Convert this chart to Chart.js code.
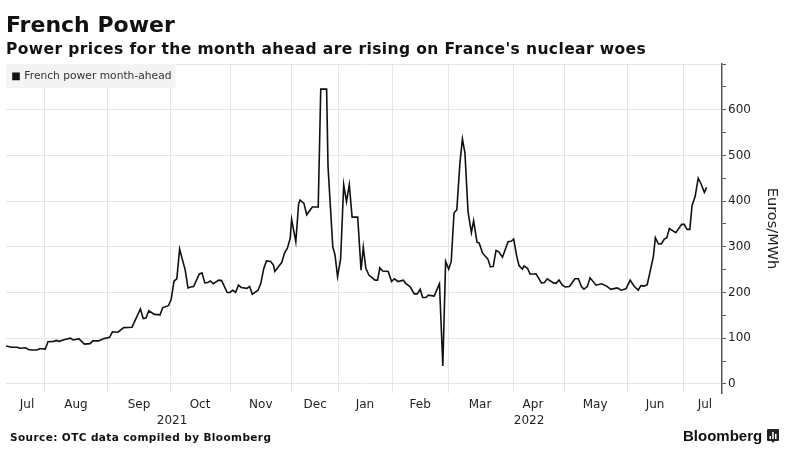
<!DOCTYPE html>
<html>
<head>
<meta charset="utf-8">
<script src="https://cdn.jsdelivr.net/npm/chart.js@4"></script>
<style>
  html, body { margin: 0; padding: 0; background: #fff; }
  body { width: 788px; height: 457px; position: relative; overflow: hidden; font-family: "DejaVu Sans", sans-serif; color: #111; }
  #wrap { position: absolute; left: 0; top: 0; width: 788px; height: 457px; }
  .label { position: absolute; white-space: nowrap; font-weight: bold; }
  #title { left: 6px; top: 11px; font-size: 22px; line-height: 28px; }
  #subtitle { left: 6px; top: 38px; font-size: 15.5px; line-height: 22px; letter-spacing: 0.4px; }
  #source { left: 10px; top: 429px; font-size: 10.5px; line-height: 16px; letter-spacing: 0.4px; }
  #brand { left: 683px; top: 427px; font-family: "Liberation Sans", sans-serif; font-size: 15px; line-height: 18px; }
  #logo { position: absolute; left: 767px; top: 429px; }
</style>
</head>
<body>
<div id="wrap"><canvas id="chart" width="788" height="457"></canvas></div>
<div class="label" id="title">French Power</div>
<div class="label" id="subtitle">Power prices for the month ahead are rising on France's nuclear woes</div>
<div class="label" id="source">Source: OTC data compiled by Bloomberg</div>
<div class="label" id="brand">Bloomberg</div>
<svg id="logo" width="12" height="14" viewBox="0 0 12 14">
  <path d="M1 0h10a1 1 0 0 1 1 1v10a1 1 0 0 1-1 1H7.5L6 14 4.5 12H1a1 1 0 0 1-1-1V1a1 1 0 0 1 1-1z" fill="#222"/>
  <path d="M2.5 7h1.5v3H2.5zM5.2 3h1.5v7H5.2zM8 5h1.5v5H8z" fill="#fff"/>
</svg>
<script>
// x is counted in trading days from the first point of the window
const tradingDays = [
  0, 2, 4, 5, 7, 8, 9, 11, 12, 13, 14, 15, 17, 18, 19, 21, 23, 24, 26, 28,
  30, 31, 33, 35, 37, 38, 40, 41, 42, 45, 48, 49, 50, 51, 53, 55, 56, 58, 59, 60,
  61, 62, 64, 65, 66, 67, 69, 70, 71, 72, 73, 74, 76, 77, 79, 80, 81, 82, 83, 84,
  86, 87, 88, 90, 91, 92, 93, 94.5, 95.5, 96, 98.5, 99.5, 100.5, 101.5, 102, 103.5, 104.5, 105, 106.4, 107.4,
  109.4, 111.5, 112.4, 114.5, 115, 116.7, 117.5, 118.4, 119.5, 120.6, 121.6, 122.6, 123.6, 125.6, 126.8, 127.6, 128.5, 129.6, 130.8, 131.8,
  132.7, 133.5, 134.5, 136.5, 137.7, 138.7, 140, 141.9, 142.7, 144.3, 145.8, 146.9, 147.9, 148.8, 150, 150.8, 152.9, 154.8, 156, 157,
  158.1, 159, 160, 161, 162.1, 163, 163.9, 165, 166.2, 167, 168.2, 169, 170.2, 172.1, 173, 174, 175, 176, 177.3, 179.3,
  180.4, 181.3, 182.4, 183.2, 184.4, 185, 186.2, 187.2, 189.3, 191.2, 192.3, 193.3, 195.5, 196.4, 197.5, 198.7, 199.7, 201.2, 203.2, 204.4,
  205.5, 206.4, 207.6, 208.6, 210.7, 212.7, 214.5, 216, 217.5, 218.3, 219.7, 221.4, 222.9, 224.4, 225.8, 226.7, 227.9, 229, 231.2, 231.9,
  233, 234, 235.1, 236, 236.9, 239.2, 241.3, 242.2, 243.2, 244.2, 245, 246.1, 247.2, 248.2, 249.4, 250.2
];
const prices = [
  83, 80, 80, 78, 79, 75, 74, 74, 77, 77, 76, 92, 93, 95, 93, 97, 100, 96, 99, 87,
  88, 94, 94, 99, 102, 114, 113, 118, 123, 124, 164, 143, 144, 160, 152, 151, 167, 171, 185, 225,
  230, 295, 249, 210, 212, 213, 240, 243, 221, 222, 225, 219, 227, 226, 200, 200, 205, 200, 216, 211,
  209, 213, 196, 205, 220, 251, 269, 268, 260, 246, 266, 287, 297, 319, 360, 311, 394, 402, 395, 370,
  387, 387, 645, 645, 476, 300, 282, 235, 273, 436, 399, 436, 365, 365, 249, 299, 253, 238, 232, 227,
  227, 254, 247, 246, 224, 230, 224, 227, 220, 213, 197, 197, 207, 189, 189, 194, 192, 219, 39, 268,
  251, 268, 374, 381, 483, 536, 505, 377, 331, 357, 310, 308, 286, 273, 256, 257, 292, 289, 277, 311,
  312, 317, 279, 259, 251, 258, 253, 240, 241, 221, 222, 230, 221, 220, 227, 216, 212, 213, 230, 230,
  213, 207, 213, 232, 216, 219, 214, 207, 209, 210, 205, 208, 227, 213, 205, 215, 214, 217, 279, 320,
  306, 306, 317, 320, 340, 331, 349, 349, 338, 338, 390, 410, 450, 438, 419, 430
];

const monthStarts = [13.9, 36.4, 58.9, 80, 102.1, 118.6, 137.9, 158.2, 181.4, 199.6, 221.8, 241.8];
const monthLabels = ['Jul', 'Aug', 'Sep', 'Oct', 'Nov', 'Dec', 'Jan', 'Feb', 'Mar', 'Apr', 'May', 'Jun', 'Jul'];
const monthLabelDays = [7.5, 25, 47.5, 69.3, 91, 110.4, 128.2, 147.9, 169.3, 188.2, 210.4, 231.8, 249.6];
const yearLabels = ['2021', '2022'];
const yearLabelDays = [59.3, 186.8];
const priceTicks = [0, 50, 100, 150, 200, 250, 300, 350, 400, 450, 500, 550, 600, 650, 700];

const SERIES_NAME = 'French power month-ahead';
const FONT = '"DejaVu Sans", sans-serif';
const GRID = '#e6e6e6';
const INK = '#222222';

// one tick list for the x axis: boundaries carry a grid line, the others carry text,
// and a year sits on the second line of its own tick
const xTicks = monthStarts.map(v => ({ value: v, grid: true, label: '' }))
  .concat(monthLabelDays.map((v, i) => ({ value: v, grid: false, label: monthLabels[i] })))
  .concat(yearLabelDays.map((v, i) => ({ value: v, grid: false, label: ['', yearLabels[i]] })))
  .sort((a, b) => a.value - b.value);

const legendBackground = {
  id: 'legendBackground',
  // legend goes above the grey box, which itself covers the grid
  beforeLayout(chart) {
    const legend = chart.legend;
    legend._layers = () => [{ z: 1, draw: area => legend.draw(area) }];
  },
  // a legend at chartArea loses its top offset in layout, so put it back here
  afterLayout(chart) {
    chart.legend.top = chart.chartArea.top;
    chart.legend.bottom = chart.chartArea.bottom;
  },
  beforeDatasetsDraw(chart) {
    const hit = chart.legend.legendHitBoxes[0];
    const area = chart.chartArea;
    chart.ctx.save();
    chart.ctx.fillStyle = '#f3f3f3';
    chart.ctx.fillRect(area.left, area.top, hit.left + hit.width + 4 - area.left, 24);
    chart.ctx.restore();
  }
};

new Chart(document.getElementById('chart').getContext('2d'), {
  type: 'line',
  data: {
    datasets: [{
      label: SERIES_NAME,
      data: tradingDays.map((d, i) => ({ x: d, y: prices[i] })),
      borderColor: '#111111',
      backgroundColor: '#111111',
      borderWidth: 1.6,
      pointRadius: 0,
      tension: 0
    }]
  },
  plugins: [legendBackground],
  options: {
    responsive: false,
    animation: false,
    layout: { padding: { left: 6, top: 64, right: 0, bottom: 0 } },
    plugins: {
      tooltip: { enabled: false },
      legend: {
        position: 'chartArea',
        align: 'start',
        onClick: null,
        labels: {
          boxWidth: 6,
          boxHeight: 6,
          padding: 7,
          color: '#333333',
          font: { family: FONT, size: 10.7 }
        }
      }
    },
    scales: {
      x: {
        type: 'linear',
        min: 0,
        max: 255.7,
        position: 'bottom',
        afterBuildTicks: s => { s.ticks = xTicks.map(t => ({ value: t.value })); },
        afterFit: s => { s.height = 64; },
        border: { display: false },
        grid: {
          color: ctx => {
            const t = ctx.tick && xTicks.find(m => m.value === ctx.tick.value);
            return t && t.grid ? GRID : 'rgba(0,0,0,0)';
          },
          drawTicks: false
        },
        ticks: {
          autoSkip: false,
          maxRotation: 0,
          padding: 4,
          color: INK,
          font: { family: FONT, size: 12, lineHeight: 1.35 },
          callback: v => {
            const t = xTicks.find(m => m.value === v);
            return t ? t.label : '';
          }
        }
      },
      y: {
        position: 'right',
        min: -20,
        max: 700,
        afterBuildTicks: s => { s.ticks = priceTicks.map(v => ({ value: v })); },
        afterFit: s => { s.width = 66; },
        border: { display: true, color: '#555555', width: 1.5 },
        grid: {
          color: ctx => (ctx.tick && ctx.tick.value % 100 === 0 ? GRID : 'rgba(0,0,0,0)'),
          tickColor: '#555555',
          tickLength: 4
        },
        ticks: {
          autoSkip: false,
          padding: 2,
          color: INK,
          font: { family: FONT, size: 12 },
          callback: v => (v % 100 === 0 && v < 700 ? String(v) : '')
        },
        title: {
          display: true,
          text: 'Euros/MWh',
          color: INK,
          font: { family: FONT, size: 14.5 },
          padding: { top: 8, bottom: 0 }
        }
      }
    }
  }
});
</script>
</body>
</html>
